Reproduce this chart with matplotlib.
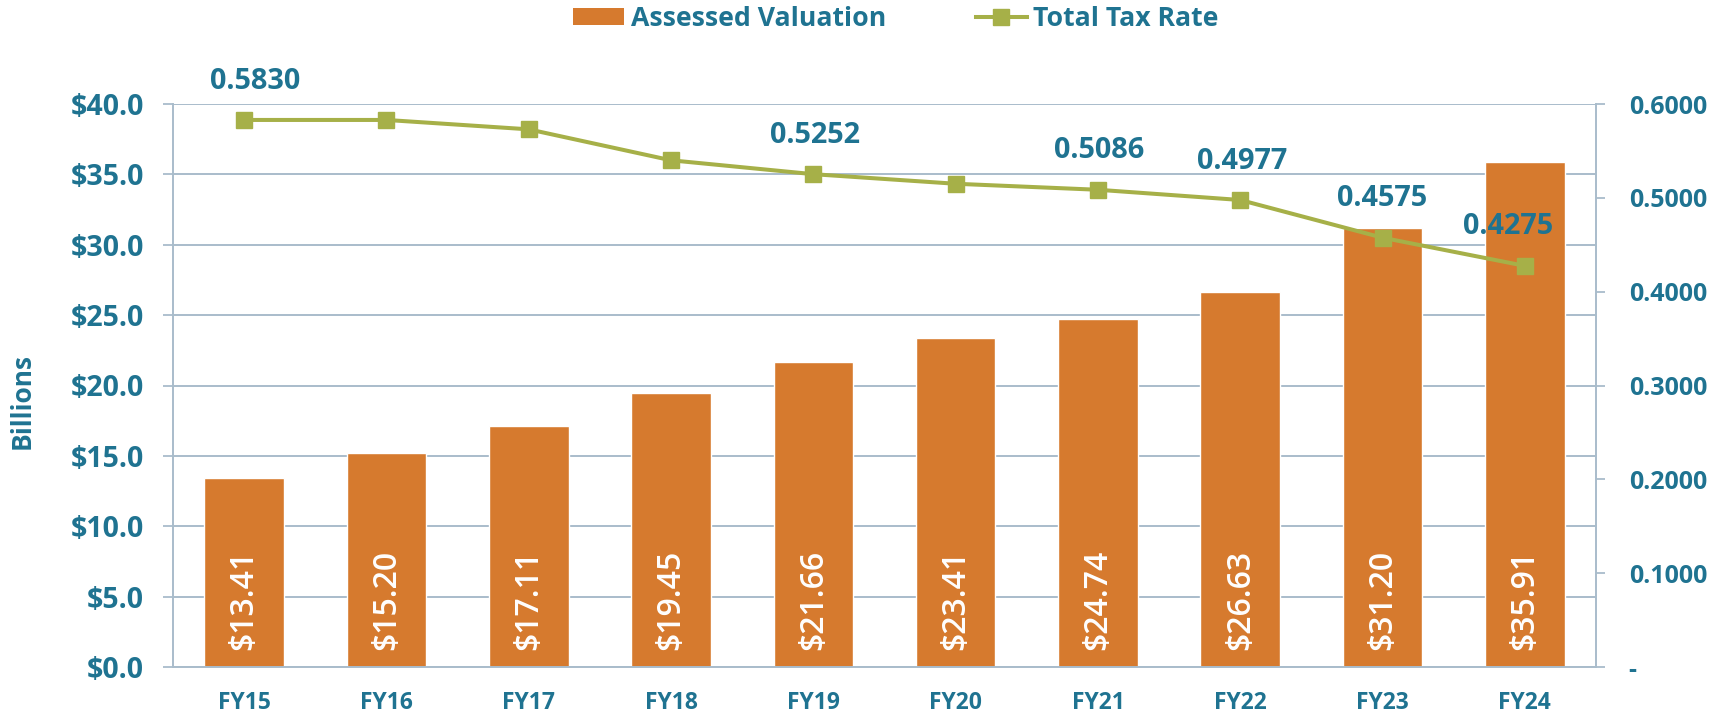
import matplotlib
matplotlib.use("Agg")
import matplotlib.pyplot as plt
from matplotlib.patches import Patch
from matplotlib.lines import Line2D
from matplotlib.ticker import FuncFormatter

plt.rcParams['font.family'] = ['Open Sans', 'DejaVu Sans']

categories = ["FY15", "FY16", "FY17", "FY18", "FY19", "FY20", "FY21", "FY22", "FY23", "FY24"]
assessed_valuation = [13.41, 15.20, 17.11, 19.45, 21.66, 23.41, 24.74, 26.63, 31.20, 35.91]
tax_rate = [0.5830, 0.5830, 0.5730, 0.5400, 0.5252, 0.5150, 0.5086, 0.4977, 0.4575, 0.4275]
rate_labels = ["0.5830", None, None, None, "0.5252", None, "0.5086", "0.4977", "0.4575", "0.4275"]
left_ticks = [0, 5, 10, 15, 20, 25, 30, 35, 40]
right_ticks = [0, 0.1, 0.2, 0.3, 0.4, 0.5, 0.6]

BLUE = '#1F7391'
ORANGE = '#D67A2E'
OLIVE = '#A6B048'
GRID = '#A9BCCB'

fig = plt.figure(figsize=(17.26, 7.18), dpi=100)
ax = fig.add_axes([173/1726, 51/718, (1596-173)/1726, (667-104)/718])
x = list(range(len(categories)))

ax.set_axisbelow(True)
ax.bar(x, assessed_valuation, width=0.56, color=ORANGE, edgecolor='white', linewidth=1, zorder=2)
ax.set_xlim(-0.5, len(categories) - 0.5)
ax.set_ylim(0, 40)
ax.set_yticks(left_ticks)
ax.yaxis.set_major_formatter(FuncFormatter(lambda v, p: f"${v:.1f}"))
ax.grid(axis='y', color=GRID, linewidth=1.4)
ax.set_xticks(x)
ax.set_xticklabels(categories)
ax.tick_params(axis='x', length=0, pad=17, labelsize=16.5, labelcolor=BLUE)
ax.tick_params(axis='y', length=7, width=1.3, color=GRID, pad=14, labelsize=20.5, labelcolor=BLUE)
for lab in ax.get_xticklabels() + ax.get_yticklabels():
    lab.set_fontweight('bold')
for s in ['top', 'right']:
    ax.spines[s].set_visible(False)
for s in ['left', 'bottom']:
    ax.spines[s].set_color(GRID)
    ax.spines[s].set_linewidth(1.4)

for xi, v in zip(x, assessed_valuation):
    ax.annotate(f"${v:.2f}", xy=(xi, 0), xytext=(0, 12), textcoords='offset points',
                rotation=90, ha='center', va='bottom', color='white', fontsize=23,
                fontweight='semibold', zorder=3)

ax2 = ax.twinx()
ax2.set_position(ax.get_position())
ax2.plot(x, tax_rate, color=OLIVE, linewidth=2.9, marker='s', markersize=12,
         markeredgecolor=OLIVE, zorder=4)
ax2.set_ylim(0, 0.6)
ax2.set_yticks(right_ticks)
ax2.yaxis.set_major_formatter(FuncFormatter(lambda v, p: '-' if abs(v) < 1e-9 else f"{v:.4f}"))
ax2.tick_params(axis='y', length=6.5, width=1.3, color=GRID, pad=17, labelsize=18, labelcolor=BLUE)
for lab in ax2.get_yticklabels():
    lab.set_fontweight('bold')
for s in ['top', 'left', 'bottom']:
    ax2.spines[s].set_visible(False)
ax2.spines['right'].set_color(GRID)
ax2.spines['right'].set_linewidth(1.4)

x_offsets = {0: 8, 8: 0, 9: -12}
for xi, v, lab in zip(x, tax_rate, rate_labels):
    if lab is None:
        continue
    ax2.annotate(lab, xy=(xi, v), xytext=(x_offsets.get(xi, 1), 28), textcoords='offset points',
                 ha='center', va='center', color=BLUE, fontsize=20.8, fontweight='bold', zorder=5)

fig.text(22/1726, 1 - 401/718, "Billions", rotation=90, ha='center', va='center',
         color=BLUE, fontsize=19, fontweight='bold')

handles = [Patch(facecolor=ORANGE, edgecolor='none'),
           Line2D([0], [0], color=OLIVE, linewidth=2.9, marker='s', markersize=11)]
leg = fig.legend(handles, ["Assessed Valuation", "Total Tax Rate"], loc='center',
                 bbox_to_anchor=(896/1726, 1 - 18.5/718), ncol=2, frameon=False,
                 prop={'family': ['Open Sans', 'DejaVu Sans'], 'size': 19.2, 'weight': 'bold'},
                 handlelength=1.9, handleheight=0.6, handletextpad=0.25,
                 columnspacing=3.37, borderaxespad=0, borderpad=0)
for t in leg.get_texts():
    t.set_color(BLUE)

fig.savefig("out.png", dpi=100)
